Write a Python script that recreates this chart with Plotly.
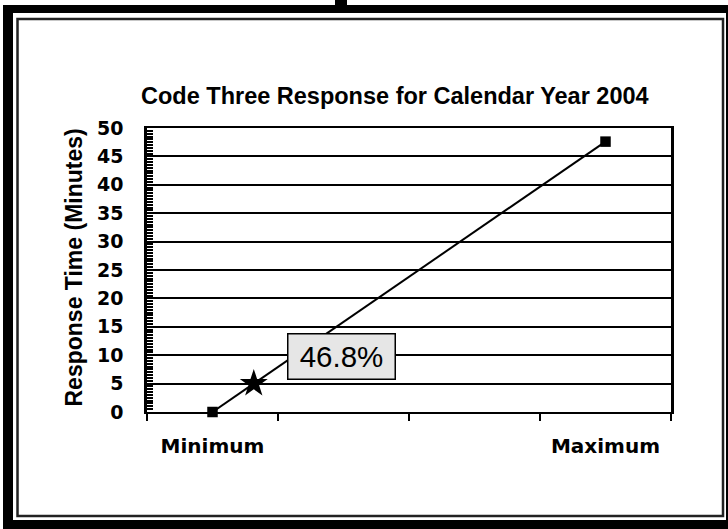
import numpy as np
import plotly.graph_objects as go

# ---- data ----
categories = ["Minimum", "Maximum"]
category_pos = [0, 1]
response_minutes = [0, 47.6]
target_minutes = 5
target_label = "46.8%"
chart_title = "Code Three Response for Calendar Year 2004"
y_title = "Response Time (Minutes)"
y_ticks = list(range(0, 55, 5))

W, H = 728, 529
L, R, T, B = 147, 57, 128, 117
PW, PH = W - L - R, H - T - B


def px(x):
    return (x - L) / PW


def py(y):
    return (H - B - y) / PH


star_x = float(np.interp(target_minutes, response_minutes, category_pos))

fig = go.Figure()
fig.add_trace(go.Scatter(
    x=category_pos, y=response_minutes, mode="lines+markers",
    line=dict(color="black", width=2),
    marker=dict(symbol="square", size=10.5, color="black"),
    cliponaxis=False, showlegend=False, hoverinfo="skip"))
fig.add_trace(go.Scatter(
    x=[star_x], y=[target_minutes], mode="markers",
    marker=dict(symbol="star", size=21, color="black"),
    cliponaxis=False, showlegend=False, hoverinfo="skip"))

fig.update_layout(
    width=W, height=H,
    margin=dict(l=L, r=R, t=T, b=B, autoexpand=False),
    paper_bgcolor="white", plot_bgcolor="white",
    showlegend=False,
    xaxis=dict(
        range=[-1 / 6, 7 / 6], tickmode="array", tickvals=category_pos,
        ticktext=categories, ticks="", showgrid=False, zeroline=False,
        showline=True, linecolor="black", linewidth=2, mirror=True,
        automargin=False,
        tickfont=dict(family="DejaVu Sans", size=20, color="black", weight="bold"),
        ticklabelstandoff=15,
        minor=dict(tickmode="array", tickvals=[-1 / 6, 1 / 6, 1 / 2, 5 / 6, 7 / 6],
                   ticks="outside", ticklen=7, tickwidth=2, tickcolor="black",
                   showgrid=False),
    ),
    yaxis=dict(
        range=[0, 50], tickmode="array", tickvals=y_ticks,
        ticks="inside", ticklen=6, tickwidth=1.5, tickcolor="black",
        showgrid=True, gridcolor="black", gridwidth=2, zeroline=False,
        showline=True, linecolor="black", linewidth=2.5, mirror=True,
        automargin=False,
        tickfont=dict(family="DejaVu Sans", size=19, color="black", weight="bold"),
        ticklabelstandoff=17,
        minor=dict(dtick=0.5, tick0=0, ticks="inside", ticklen=6, tickwidth=1.5,
                   tickcolor="black", showgrid=False),
    ),
)

fig.add_annotation(
    text=chart_title, xref="paper", yref="paper", x=px(395), y=py(96),
    xanchor="center", yanchor="middle", showarrow=False,
    font=dict(family="Liberation Sans", size=23.5, color="black", weight="bold"))
fig.add_annotation(
    text=y_title, xref="paper", yref="paper", x=px(73), y=py(267.5),
    xanchor="center", yanchor="middle", textangle=-90, showarrow=False,
    font=dict(family="Liberation Sans", size=23, color="black", weight="bold"))
fig.add_annotation(
    text=target_label, xref="paper", yref="paper", x=px(341.5), y=py(356.5),
    xanchor="center", yanchor="middle", showarrow=False,
    font=dict(family="Liberation Sans", size=29.5, color="black"),
    bgcolor="#e6e6e6", bordercolor="black", borderwidth=1.5, borderpad=3,
    width=100, height=38)

# frame
frame_rects = [
    (3, 5, 13, 540),
    (3, 5, 740, 13),
    (726, 5, 740, 540),
    (3, 520, 740, 540),
    (335, -5, 347, 6),
]
for x0, y0, x1, y1 in frame_rects:
    fig.add_shape(type="rect", xref="paper", yref="paper",
                  x0=px(x0), x1=px(x1), y0=py(y0), y1=py(y1),
                  fillcolor="black", line=dict(width=0), layer="above")
fig.add_shape(type="rect", xref="paper", yref="paper",
              x0=px(17.5), x1=px(723), y0=py(19), y1=py(516),
              fillcolor="rgba(0,0,0,0)", line=dict(color="#222", width=2.5))

fig.write_html("out.html", config={"displayModeBar": False},
               post_script="document.body.style.margin='0';document.body.style.overflow='hidden';")
